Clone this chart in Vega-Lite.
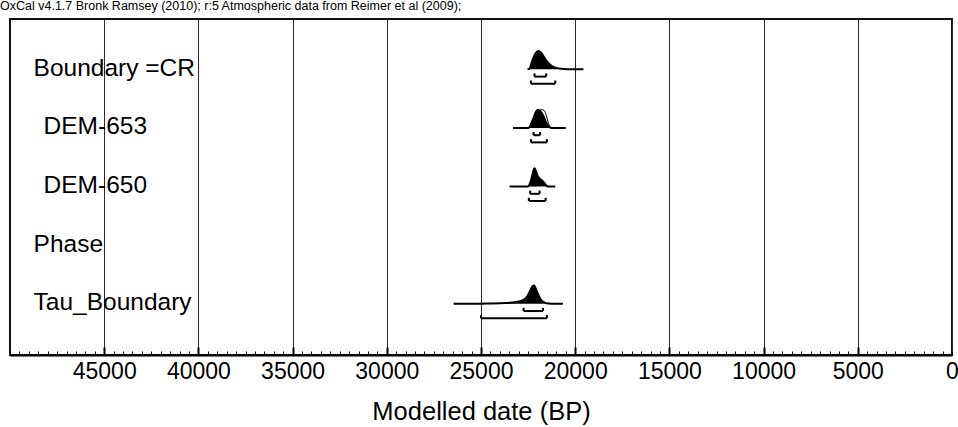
{
  "$schema": "https://vega.github.io/schema/vega-lite/v6.json",
  "width": 942,
  "height": 336,
  "autosize": "none",
  "padding": {"left": 10, "top": 19, "right": 6, "bottom": 72},
  "background": "white",
  "config": {
    "font": "Liberation Sans",
    "view": {"stroke": "#111", "strokeWidth": 2}
  },
  "title": {
    "text": "OxCal v4.1.7 Bronk Ramsey (2010); r:5 Atmospheric data from Reimer et al (2009);",
    "anchor": "start",
    "frame": "group",
    "fontSize": 12.5,
    "fontWeight": "normal",
    "color": "black",
    "offset": 7,
    "dx": -10
  },
  "data": {
    "values": [
      {"kind": "post", "name": "Boundary =CR", "bp": 22530, "p": 0},
      {"kind": "post", "name": "Boundary =CR", "bp": 22420, "p": 0.05},
      {"kind": "post", "name": "Boundary =CR", "bp": 22300, "p": 0.4},
      {"kind": "post", "name": "Boundary =CR", "bp": 22175, "p": 0.75},
      {"kind": "post", "name": "Boundary =CR", "bp": 22070, "p": 0.93},
      {"kind": "post", "name": "Boundary =CR", "bp": 21945, "p": 1.0},
      {"kind": "post", "name": "Boundary =CR", "bp": 21820, "p": 0.92},
      {"kind": "post", "name": "Boundary =CR", "bp": 21680, "p": 0.72},
      {"kind": "post", "name": "Boundary =CR", "bp": 21500, "p": 0.43},
      {"kind": "post", "name": "Boundary =CR", "bp": 21325, "p": 0.25},
      {"kind": "post", "name": "Boundary =CR", "bp": 21060, "p": 0.09},
      {"kind": "post", "name": "Boundary =CR", "bp": 20620, "p": 0.02},
      {"kind": "post", "name": "Boundary =CR", "bp": 20100, "p": 0.004},
      {"kind": "post", "name": "Boundary =CR", "bp": 19560, "p": 0},

      {"kind": "post", "name": "DEM-653", "bp": 23306, "p": 0},
      {"kind": "post", "name": "DEM-653", "bp": 22480, "p": 0},
      {"kind": "post", "name": "DEM-653", "bp": 22420, "p": 0.05},
      {"kind": "post", "name": "DEM-653", "bp": 22350, "p": 0.2},
      {"kind": "post", "name": "DEM-653", "bp": 22210, "p": 0.55},
      {"kind": "post", "name": "DEM-653", "bp": 22100, "p": 0.85},
      {"kind": "post", "name": "DEM-653", "bp": 22000, "p": 1.0},
      {"kind": "post", "name": "DEM-653", "bp": 21890, "p": 0.95},
      {"kind": "post", "name": "DEM-653", "bp": 21770, "p": 0.8},
      {"kind": "post", "name": "DEM-653", "bp": 21640, "p": 0.55},
      {"kind": "post", "name": "DEM-653", "bp": 21540, "p": 0.3},
      {"kind": "post", "name": "DEM-653", "bp": 21430, "p": 0.1},
      {"kind": "post", "name": "DEM-653", "bp": 21330, "p": 0.02},
      {"kind": "post", "name": "DEM-653", "bp": 21240, "p": 0},
      {"kind": "post", "name": "DEM-653", "bp": 20495, "p": 0},

      {"kind": "like", "name": "DEM-653", "bp": 22300, "p": 0},
      {"kind": "like", "name": "DEM-653", "bp": 22160, "p": 0.35},
      {"kind": "like", "name": "DEM-653", "bp": 22030, "p": 0.75},
      {"kind": "like", "name": "DEM-653", "bp": 21910, "p": 0.97},
      {"kind": "like", "name": "DEM-653", "bp": 21770, "p": 1.0},
      {"kind": "like", "name": "DEM-653", "bp": 21640, "p": 0.95},
      {"kind": "like", "name": "DEM-653", "bp": 21540, "p": 0.7},
      {"kind": "like", "name": "DEM-653", "bp": 21430, "p": 0.3},
      {"kind": "like", "name": "DEM-653", "bp": 21330, "p": 0.05},
      {"kind": "like", "name": "DEM-653", "bp": 21240, "p": 0},

      {"kind": "post", "name": "DEM-650", "bp": 23484, "p": 0},
      {"kind": "post", "name": "DEM-650", "bp": 22510, "p": 0},
      {"kind": "post", "name": "DEM-650", "bp": 22390, "p": 0.2},
      {"kind": "post", "name": "DEM-650", "bp": 22280, "p": 0.6},
      {"kind": "post", "name": "DEM-650", "bp": 22210, "p": 0.9},
      {"kind": "post", "name": "DEM-650", "bp": 22157, "p": 1.0},
      {"kind": "post", "name": "DEM-650", "bp": 22086, "p": 0.85},
      {"kind": "post", "name": "DEM-650", "bp": 22000, "p": 0.6},
      {"kind": "post", "name": "DEM-650", "bp": 21890, "p": 0.45},
      {"kind": "post", "name": "DEM-650", "bp": 21770, "p": 0.3},
      {"kind": "post", "name": "DEM-650", "bp": 21640, "p": 0.18},
      {"kind": "post", "name": "DEM-650", "bp": 21540, "p": 0.06},
      {"kind": "post", "name": "DEM-650", "bp": 21470, "p": 0},
      {"kind": "post", "name": "DEM-650", "bp": 21061, "p": 0},

      {"kind": "like", "name": "DEM-650", "bp": 22120, "p": 0},
      {"kind": "like", "name": "DEM-650", "bp": 22000, "p": 0.2},
      {"kind": "like", "name": "DEM-650", "bp": 21890, "p": 0.35},
      {"kind": "like", "name": "DEM-650", "bp": 21770, "p": 0.38},
      {"kind": "like", "name": "DEM-650", "bp": 21680, "p": 0.3},
      {"kind": "like", "name": "DEM-650", "bp": 21575, "p": 0.15},
      {"kind": "like", "name": "DEM-650", "bp": 21500, "p": 0.05},
      {"kind": "like", "name": "DEM-650", "bp": 21430, "p": 0},

      {"kind": "post", "name": "Tau_Boundary", "bp": 26454, "p": 0},
      {"kind": "post", "name": "Tau_Boundary", "bp": 25040, "p": 0},
      {"kind": "post", "name": "Tau_Boundary", "bp": 24510, "p": 0.01},
      {"kind": "post", "name": "Tau_Boundary", "bp": 23980, "p": 0.025},
      {"kind": "post", "name": "Tau_Boundary", "bp": 23450, "p": 0.06},
      {"kind": "post", "name": "Tau_Boundary", "bp": 23000, "p": 0.12},
      {"kind": "post", "name": "Tau_Boundary", "bp": 22740, "p": 0.22},
      {"kind": "post", "name": "Tau_Boundary", "bp": 22560, "p": 0.38},
      {"kind": "post", "name": "Tau_Boundary", "bp": 22440, "p": 0.6},
      {"kind": "post", "name": "Tau_Boundary", "bp": 22330, "p": 0.85},
      {"kind": "post", "name": "Tau_Boundary", "bp": 22250, "p": 0.98},
      {"kind": "post", "name": "Tau_Boundary", "bp": 22190, "p": 1.0},
      {"kind": "post", "name": "Tau_Boundary", "bp": 22120, "p": 0.9},
      {"kind": "post", "name": "Tau_Boundary", "bp": 22030, "p": 0.66},
      {"kind": "post", "name": "Tau_Boundary", "bp": 21945, "p": 0.45},
      {"kind": "post", "name": "Tau_Boundary", "bp": 21860, "p": 0.29},
      {"kind": "post", "name": "Tau_Boundary", "bp": 21770, "p": 0.17},
      {"kind": "post", "name": "Tau_Boundary", "bp": 21680, "p": 0.1},
      {"kind": "post", "name": "Tau_Boundary", "bp": 21590, "p": 0.05},
      {"kind": "post", "name": "Tau_Boundary", "bp": 21500, "p": 0.02},
      {"kind": "post", "name": "Tau_Boundary", "bp": 21330, "p": 0.005},
      {"kind": "post", "name": "Tau_Boundary", "bp": 21150, "p": 0},
      {"kind": "post", "name": "Tau_Boundary", "bp": 20654, "p": 0},

      {"kind": "range", "name": "Boundary =CR", "level": 68.2, "from": 22160, "to": 21540},
      {"kind": "range", "name": "Boundary =CR", "level": 95.4, "from": 22350, "to": 21060},
      {"kind": "range", "name": "DEM-653", "level": 68.2, "from": 22210, "to": 21860},
      {"kind": "range", "name": "DEM-653", "level": 95.4, "from": 22350, "to": 21500},
      {"kind": "range", "name": "DEM-650", "level": 68.2, "from": 22390, "to": 21890},
      {"kind": "range", "name": "DEM-650", "level": 95.4, "from": 22460, "to": 21570},
      {"kind": "range", "name": "Tau_Boundary", "level": 68.2, "from": 22740, "to": 21710},
      {"kind": "range", "name": "Tau_Boundary", "level": 95.4, "from": 25000, "to": 21500},

      {"kind": "label", "name": "Boundary =CR", "type": "Boundary"},
      {"kind": "label", "name": "DEM-653", "type": "R_Date"},
      {"kind": "label", "name": "DEM-650", "type": "R_Date"},
      {"kind": "label", "name": "Phase", "type": "Phase"},
      {"kind": "label", "name": "Tau_Boundary", "type": "Boundary"}
    ]
  },
  "transform": [
    {"calculate": "indexof(['Tau_Boundary','Phase','DEM-650','DEM-653','Boundary =CR'], datum.name)", "as": "row"},
    {"calculate": "datum.row + 0.31 * (datum.p || 0)", "as": "y"},
    {"calculate": "datum.row - (datum.level < 90 ? 0.125 : 0.247)", "as": "by"},
    {"calculate": "datum.by + 0.055", "as": "bt"}
  ],
  "resolve": {"axis": {"x": "independent"}},
  "layer": [
    {
      "transform": [{"filter": "datum.kind === 'post'"}],
      "mark": {"type": "area", "color": "black", "interpolate": "monotone"},
      "encoding": {
        "x": {
          "field": "bp", "type": "quantitative",
          "scale": {"domain": [0, 50000], "reverse": true, "nice": false, "zero": false},
          "axis": {
            "values": [0, 5000, 10000, 15000, 20000, 25000, 30000, 35000, 40000, 45000],
            "format": "d",
            "grid": true, "gridColor": "#2a2a2a", "gridWidth": 1,
            "ticks": false,
            "domainColor": "black", "domainWidth": 2,
            "labelFontSize": 23, "labelColor": "black", "labelPadding": 5, "labelFlush": false,
            "title": "Modelled date (BP)", "titleFontSize": 25.5, "titleFontWeight": "normal",
            "titleColor": "black", "titlePadding": 16
          }
        },
        "y": {"field": "y", "type": "quantitative", "scale": {"domain": [-0.875, 4.858], "nice": false, "zero": false}, "axis": null},
        "y2": {"field": "row"},
        "detail": {"field": "name"}
      }
    },
    {
      "transform": [{"filter": "datum.kind === 'post'"}],
      "mark": {"type": "line", "color": "black", "strokeWidth": 2, "interpolate": "monotone"},
      "encoding": {
        "x": {"field": "bp", "type": "quantitative", "axis": null},
        "y": {"field": "y", "type": "quantitative"},
        "detail": {"field": "name"}
      }
    },
    {
      "transform": [{"filter": "datum.kind === 'like'"}],
      "mark": {"type": "line", "color": "black", "strokeWidth": 1, "interpolate": "monotone"},
      "encoding": {
        "x": {
          "field": "bp", "type": "quantitative",
          "axis": {
            "orient": "bottom", "tickCount": 100, "ticks": true, "tickSize": -4,
            "tickColor": "black", "tickWidth": 1, "labels": false, "domain": false,
            "grid": false, "title": null
          }
        },
        "y": {"field": "y", "type": "quantitative"},
        "detail": {"field": "name"}
      }
    },
    {
      "transform": [{"filter": "datum.kind === 'range'"}],
      "mark": {"type": "rule", "color": "black", "strokeWidth": 2},
      "encoding": {
        "x": {
          "field": "from", "type": "quantitative",
          "axis": {
            "orient": "bottom",
            "values": [5000, 10000, 15000, 20000, 25000, 30000, 35000, 40000, 45000],
            "ticks": true, "tickSize": -8, "tickColor": "black", "tickWidth": 2,
            "labels": false, "domain": false, "grid": false, "title": null
          }
        },
        "x2": {"field": "to"},
        "y": {"field": "by", "type": "quantitative"}
      }
    },
    {
      "transform": [
        {"filter": "datum.kind === 'range'"},
        {"fold": ["from", "to"], "as": ["end", "edge"]}
      ],
      "mark": {"type": "rule", "color": "black", "strokeWidth": 2},
      "encoding": {
        "x": {"field": "edge", "type": "quantitative", "axis": null},
        "y": {"field": "by", "type": "quantitative"},
        "y2": {"field": "bt"}
      }
    },
    {
      "transform": [{"filter": "datum.kind === 'label' && datum.type !== 'R_Date'"}],
      "mark": {"type": "text", "align": "left", "baseline": "alphabetic", "dy": 6.5, "fontSize": 24.5, "color": "black"},
      "encoding": {
        "x": {"datum": 48750, "type": "quantitative", "axis": null},
        "y": {"field": "row", "type": "quantitative"},
        "text": {"field": "name"}
      }
    },
    {
      "transform": [{"filter": "datum.kind === 'label' && datum.type === 'R_Date'"}],
      "mark": {"type": "text", "align": "left", "baseline": "alphabetic", "dx": 10, "dy": 6.5, "fontSize": 24.5, "color": "black"},
      "encoding": {
        "x": {"datum": 48750, "type": "quantitative", "axis": null},
        "y": {"field": "row", "type": "quantitative"},
        "text": {"field": "name"}
      }
    }
  ]
}
